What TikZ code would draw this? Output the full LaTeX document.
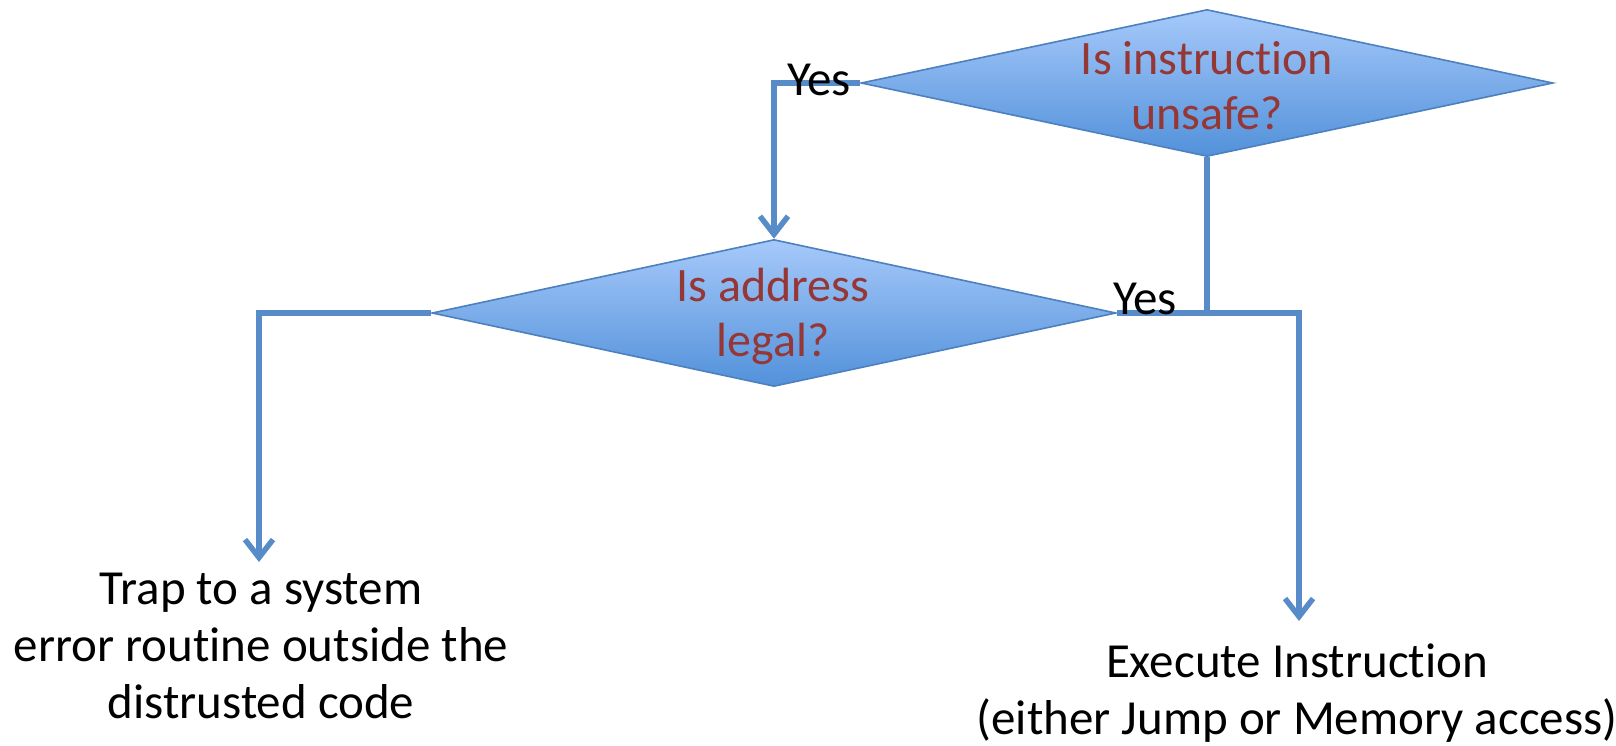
\documentclass[tikz,border=0pt]{standalone}
\usepackage{fontspec}
\setmainfont{Carlito}[Ligatures=CommonOff]
\usetikzlibrary{shapes.geometric,arrows.meta}
\definecolor{flowline}{RGB}{88,140,200}
\definecolor{boxedge}{RGB}{76,128,190}
\definecolor{boxtop}{RGB}{166,201,250}
\definecolor{boxbottom}{RGB}{82,145,218}
\definecolor{asktext}{RGB}{149,55,53}
\tikzset{
  decision/.style={diamond, draw=boxedge, line width=1.6pt, inner sep=0pt,
    top color=boxtop, bottom color=boxbottom,
    minimum width=#1, minimum height=147pt},
  asklabel/.style={text=asktext, align=center, inner sep=0pt,
    font=\fontsize{48}{55}\selectfont},
  plainlabel/.style={text=black, align=center, inner sep=0pt,
    font=\fontsize{49}{57}\selectfont},
  flow/.style={draw=flowline, line width=5.5pt},
  flowarrow/.style={flow, -{Straight Barb[length=18pt,width=28pt]}},
}
\begin{document}
\begin{tikzpicture}[x=1pt,y=-1pt]
  \useasboundingbox (0,0) rectangle (1616,745);

  % decisions
  \node[decision=692pt] (unsafe) at (1207,83) {};
  \node[decision=684pt] (legal) at (774,313) {};

  % branch ends
  \coordinate (trapin) at (259,562);
  \coordinate (execin) at (1299,621);

  % connectors
  \draw[flowarrow] (unsafe.west) -| (legal.north);
  \draw[flow] (unsafe.south) -- (unsafe.south |- legal.east);
  \draw[flowarrow] (legal.west) -| (trapin);
  \draw[flowarrow] (legal.east) -| (execin);

  % decision texts
  \node[asklabel] (unsafetext) at (1207,86) {Is instruction\\unsafe?};
  \node[asklabel] (legaltext) at (773,316) {Is address\\legal?};

  % branch labels
  \node[plainlabel] (yes1) at (819,80) {Yes};
  \node[plainlabel] (yes2) at (1145,299) {Yes};

  % outcomes
  \node[plainlabel] (trap) at (261,646) {Trap to a system\\error routine outside the\\distrusted code};
  \node[plainlabel] (exec) at (1297,693) {Execute Instruction\\(either Jump or Memory access)};
\end{tikzpicture}
\end{document}
